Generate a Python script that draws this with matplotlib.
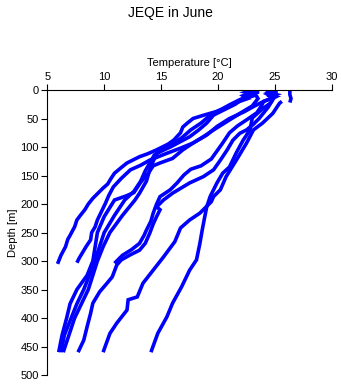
import matplotlib
matplotlib.use("Agg")
import matplotlib.pyplot as plt

plt.rcParams["font.family"] = ["Liberation Sans", "DejaVu Sans"]

# ── Профили: температура [°C] и глубина [м] ──
p1_temp = [22.4, 22.9, 22.2, 22.6, 21.6, 20.8, 19.8, 18.6, 17.8, 17.3, 16.9, 16.7, 16.1, 15.6,
           14.6, 13.8, 13.1, 12.6, 12.0, 11.5, 10.9, 10.6, 10.3, 9.9, 9.5, 9.0, 8.6,
           8.3, 7.9, 7.6, 7.4, 7.0, 6.8, 6.6, 6.2, 6.0, 5.9]
p1_depth = [0, 5, 10, 15, 22, 30, 38, 45, 50, 58, 65, 75, 88, 95,
            105, 112, 117, 122, 128, 136, 146, 155, 165, 172, 180, 190, 200,
            210, 220, 228, 240, 255, 262, 275, 290, 300, 305]

p2_temp = [24.8, 24.2, 25.1, 24.3, 25.0, 24.5, 24.0, 23.2, 22.3, 21.0, 19.9, 19.0, 17.8,
           16.7, 15.5, 14.0, 13.2, 12.3, 11.5, 10.8, 10.4, 10.1, 9.4, 9.2, 8.9, 8.8,
           8.4, 8.1, 7.8, 7.6]
p2_depth = [0, 3, 6, 9, 12, 16, 20, 28, 38, 50, 64, 79, 93,
            102, 111, 123, 132, 140, 155, 170, 185, 199, 228, 240, 250, 263,
            275, 285, 295, 303]

p3_temp = [24.5, 25.2, 24.4, 24.9, 24.0, 23.8, 23.4, 22.6, 21.7, 21.0, 20.4, 19.9, 19.4,
           18.5, 17.6, 17.0, 16.4, 15.8, 14.9, 14.6, 14.3, 14.1, 13.7, 13.5, 13.1,
           12.4, 11.6, 10.9]
p3_depth = [0, 4, 8, 13, 20, 28, 40, 51, 63, 75, 93, 107, 121,
            133, 139, 149, 163, 175, 187, 200, 216, 230, 246, 255, 269,
            280, 290, 304]

p4_temp = [22.5, 23.6, 22.3, 23.0, 22.2, 21.5, 20.5, 19.6, 19.0, 18.3, 17.5, 15.8, 14.6,
           14.3, 14.0, 13.7, 13.1, 12.7, 11.6, 10.5, 9.9, 9.4, 8.6, 8.0, 7.4, 6.9, 6.4]
p4_depth = [0, 3, 6, 10, 15, 25, 35, 44, 58, 70, 82, 100, 111,
            125, 140, 160, 181, 193, 220, 250, 275, 300, 350, 375, 400, 430, 460]

p5_temp = [23.0, 22.4, 23.3, 22.0, 21.0, 20.1, 19.2, 18.5, 17.6, 16.8, 15.4, 14.4, 14.0,
           13.6, 13.2, 12.6, 11.8, 10.9, 10.0, 9.4, 9.0, 8.2, 7.6, 7.1, 6.5, 6.2]
p5_depth = [0, 4, 9, 16, 26, 36, 46, 58, 70, 84, 102, 114, 128,
            142, 160, 178, 193, 220, 250, 286, 310, 350, 375, 400, 430, 460]

p6_temp = [22.9, 23.2, 23.5, 23.0, 22.0, 20.8, 19.6, 18.7, 17.8, 16.9, 16.0, 14.9, 14.3,
           13.9, 13.2, 12.6, 11.9, 10.9, 10.0, 9.4, 9.0, 8.5, 7.6, 7.0, 6.7, 6.3, 6.0]
p6_depth = [0, 5, 15, 28, 40, 55, 70, 82, 93, 105, 120, 128, 133,
            145, 162, 180, 186, 193, 222, 250, 300, 325, 350, 375, 400, 430, 460]

p7_temp = [25.0, 24.3, 25.1, 24.6, 24.7, 24.4, 24.0, 23.6, 23.1, 22.5, 21.9, 21.3, 20.8,
           20.2, 19.6, 18.7, 17.5, 16.0, 15.2, 14.6, 14.9, 14.6, 14.3, 14.0, 13.6,
           13.1, 12.3, 11.5, 11.1, 10.7, 10.2, 9.6, 9.0, 8.8, 8.5, 8.2, 7.7]
p7_depth = [0, 4, 8, 12, 20, 30, 40, 50, 60, 70, 76, 88, 105,
            123, 140, 152, 163, 181, 193, 205, 210, 222, 235, 251, 269,
            281, 289, 298, 307, 328, 340, 354, 374, 392, 415, 439, 460]

r1_temp = [25.0, 24.4, 25.1, 24.9, 24.6, 23.9, 23.0, 22.8, 22.2, 21.6, 21.0, 20.4, 19.9,
           19.3, 19.0, 18.8, 18.6, 18.4, 18.1, 17.5, 16.8, 16.0, 15.5, 14.7, 14.1]
r1_depth = [0, 5, 9, 14, 23, 33, 49, 70, 88, 110, 135, 146, 163,
            187, 205, 225, 246, 269, 298, 316, 345, 374, 398, 427, 460]

r2_temp = [25.6, 25.4, 24.8, 23.9, 23.1, 22.5, 21.6, 20.7, 20.2, 19.6, 19.4, 18.4, 17.5,
           16.7, 16.2, 15.2, 14.3, 13.4, 12.9, 12.1, 12.0, 11.1, 10.5, 9.9]
r2_depth = [20, 23, 41, 58, 70, 93, 123, 152, 175, 187, 196, 216, 228,
            242, 266, 293, 316, 339, 363, 368, 386, 409, 427, 460]

top_temp = [26.3, 26.3, 26.4, 26.3]
top_depth = [1, 8, 15, 22]

profiles = [
    (p1_temp, p1_depth), (p2_temp, p2_depth), (p3_temp, p3_depth),
    (p4_temp, p4_depth), (p5_temp, p5_depth), (p6_temp, p6_depth),
    (p7_temp, p7_depth), (r1_temp, r1_depth), (r2_temp, r2_depth),
    (top_temp, top_depth),
]

x_ticks = [5, 10, 15, 20, 25, 30]
y_ticks = [0, 50, 100, 150, 200, 250, 300, 350, 400, 450, 500]

fig = plt.figure(figsize=(3.41, 3.84), dpi=100)
fig.patch.set_facecolor("white")
ax = fig.add_axes([0.1387, 0.0234, 0.8349, 0.7422])

for t, d in profiles:
    ax.plot(t, d, color="#0000ff", linewidth=2.6, solid_joinstyle="miter",
            solid_capstyle="butt")

ax.set_xlim(5, 30)
ax.set_ylim(500, 0)
ax.set_xticks(x_ticks)
ax.set_yticks(y_ticks)
ax.xaxis.set_ticks_position("top")
ax.xaxis.set_label_position("top")
ax.tick_params(direction="out", length=4, width=0.8, labelsize=8, pad=2,
               colors="black")
ax.spines["right"].set_visible(False)
ax.spines["bottom"].set_visible(False)
for s in ("top", "left"):
    ax.spines[s].set_linewidth(0.8)

ax.set_xlabel("Temperature [°C]", fontsize=8, labelpad=4)
ax.set_ylabel("Depth [m]", fontsize=8, labelpad=2)
fig.text(0.5, 0.966, "JEQE in June", ha="center", va="center", fontsize=10)

fig.savefig("out.png", dpi=100, facecolor="white")
plt.close(fig)
